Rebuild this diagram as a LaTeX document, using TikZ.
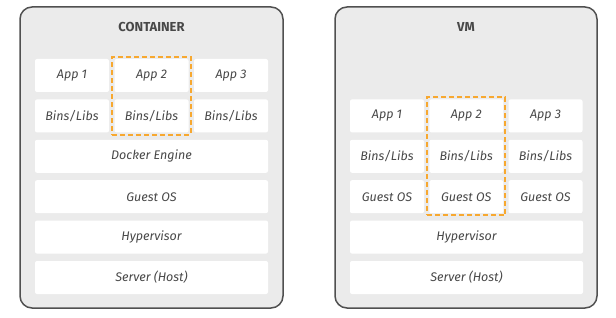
\documentclass[tikz,border=0pt]{standalone}
\usepackage{fontspec}
\setsansfont{Fira Sans}
\usetikzlibrary{positioning,fit}
\definecolor{panelgray}{RGB}{235,235,235}
\definecolor{panelline}{RGB}{80,80,80}
\definecolor{labelgray}{RGB}{72,72,72}
\definecolor{dashorange}{RGB}{247,168,48}
\tikzset{
  panel/.style={
    draw=panelline,
    fill=panelgray,
    line width=1.5pt,
    rounded corners=12pt
  },
  layer/.style={
    fill=white,
    rounded corners=2pt,
    inner sep=0pt,
    minimum height=33pt,
    text=labelgray,
    font=\sffamily\itshape\fontsize{12.5}{14}\selectfont
  },
  cell/.style={layer, minimum width=74pt},
  widelayer/.style={layer, minimum width=233pt},
  paneltitle/.style={
    text=labelgray,
    font=\sffamily\bfseries\fontsize{13}{15}\selectfont
  },
  highlight/.style={
    draw=dashorange,
    line width=2pt,
    dash pattern=on 5pt off 3pt,
    inner sep=2pt
  }
}

\begin{document}
\begin{tikzpicture}[x=1pt, y=-1pt]
  \useasboundingbox (0,0) rectangle (616,318);
  % container side
  \draw[panel] (20,7) rectangle (283,308);
  \node[paneltitle] (c-title) at (151.5,27) {CONTAINER};
  \foreach \i in {1,2,3} {
    \node[cell] (c-app\i) at ({72+79.5*(\i-1)},75.5) {App \i};
    \node[cell] (c-bins\i) at ({72+79.5*(\i-1)},115.9) {Bins/Libs};
  }
  \foreach \lbl [count=\k] in {Docker Engine, Guest OS, Hypervisor, Server (Host)} {
    \node[widelayer] (c-layer\k) at (151.5,{75.5+40.4*(\k+1)}) {\lbl};
  }
  \node[highlight, fit=(c-app2)(c-bins2)] (c-focus) {};
  % vm side
  \draw[panel] (335,7) rectangle (597,308);
  \node[paneltitle] (v-title) at (466,27) {VM};
  \foreach \i in {1,2,3} {
    \node[cell] (v-app\i) at ({387+79.25*(\i-1)},115.9) {App \i};
    \node[cell] (v-bins\i) at ({387+79.25*(\i-1)},156.3) {Bins/Libs};
    \node[cell] (v-os\i) at ({387+79.25*(\i-1)},196.7) {Guest OS};
  }
  \foreach \lbl [count=\k] in {Hypervisor, Server (Host)} {
    \node[widelayer] (v-layer\k) at (466.5,{196.7+40.4*\k}) {\lbl};
  }
  \node[highlight, fit=(v-app2)(v-os2)] (v-focus) {};
\end{tikzpicture}
\end{document}
